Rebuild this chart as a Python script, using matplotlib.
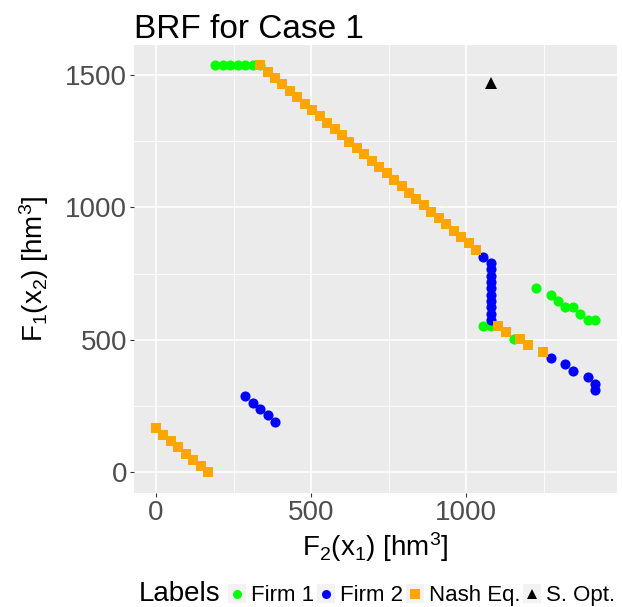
import matplotlib
matplotlib.use('Agg')

import matplotlib.pyplot as plt
from matplotlib.patches import Rectangle
from matplotlib.lines import Line2D

plt.rcParams['font.family'] = ['Liberation Sans', 'DejaVu Sans']
plt.rcParams['mathtext.fontset'] = 'custom'
plt.rcParams['mathtext.rm'] = 'Liberation Sans'
plt.rcParams['mathtext.it'] = 'Liberation Sans'
plt.rcParams['mathtext.default'] = 'regular'

# Firm 1 best response points
firm1_x = [190, 215, 239, 264, 288, 312, 336,
           1056, 1081, 1154,
           1225, 1273, 1297, 1320, 1345, 1369, 1393, 1416]
firm1_y = [1536, 1536, 1536, 1536, 1536, 1536, 1536,
           551, 551, 503,
           695, 670, 647, 623, 623, 599, 575, 575]

# Firm 2 best response points
firm2_x = [288, 313, 336, 360, 384,
           1056, 1081, 1081, 1081, 1081, 1081, 1081, 1081, 1081, 1081, 1081,
           1273, 1320, 1345, 1393, 1416, 1416]
firm2_y = [288, 263, 239, 215, 190,
           814, 791, 766, 742, 718, 695, 670, 646, 623, 599, 575,
           430, 408, 382, 359, 334, 311]

# Nash equilibria
nash_x = [0, 24, 48, 72, 96, 120, 144, 168,
          336, 360, 384, 408, 432, 456, 480, 504, 528, 552,
          576, 600, 624, 648, 672, 696, 720, 744, 768, 792,
          816, 840, 864, 888, 912, 936, 960, 984, 1008, 1032,
          1104, 1130, 1175, 1201, 1249]
nash_y = [166, 142, 119, 95, 71, 47, 24, 0,
          1536, 1512, 1488, 1464, 1440, 1416, 1392, 1368, 1344, 1320,
          1296, 1272, 1248, 1224, 1200, 1176, 1152, 1128, 1104, 1080,
          1056, 1032, 1008, 984, 960, 936, 912, 888, 864, 840,
          551, 528, 503, 479, 455]

# Social optimum
sopt_x = [1081]
sopt_y = [1468]

W, H = 622, 607
fig = plt.figure(figsize=(W / 100, H / 100), dpi=100)
ax = fig.add_axes([134 / W, 1 - 493 / H, (617 - 134) / W, (493 - 45) / H])
ax.set_facecolor('#EBEBEB')
for s in ax.spines.values():
    s.set_visible(False)

ax.set_xlim(-71, 1487)
ax.set_ylim(-78, 1613)
ax.set_xticks([0, 500, 1000])
ax.set_yticks([0, 500, 1000, 1500])
ax.set_xticks([250, 750, 1250], minor=True)
ax.set_yticks([250, 750, 1250], minor=True)
ax.grid(which='major', color='white', linewidth=1.2)
ax.grid(which='minor', color='white', linewidth=0.6)
ax.set_axisbelow(True)
ax.tick_params(which='major', labelsize=20, labelcolor='#4D4D4D', color='#333333',
               length=3, width=0.8, pad=2)
ax.tick_params(which='minor', length=0)

ax.plot(firm1_x, firm1_y, 'o', color='#00FF00', markersize=7.3, markeredgewidth=0)
ax.plot(firm2_x, firm2_y, 'o', color='#0000FF', markersize=7.3, markeredgewidth=0)
ax.plot(nash_x, nash_y, 's', color='#FFA500', markersize=7.5, markeredgewidth=0)
ax.plot(sopt_x, sopt_y, '^', color='black', markersize=8.5, markeredgewidth=0)

ax.set_xlabel(r'$F_2(x_1)\ [hm^3]$', fontsize=20, labelpad=3)
ax.set_ylabel(r'$F_1(x_2)\ [hm^3]$', fontsize=20, labelpad=10)
ax.set_title('BRF for Case 1', loc='left', fontsize=24, pad=4)

# legend along the bottom
def fx(px):
    return px / W

def fy(py):
    return 1 - py / H

base = 601
fig.text(fx(139), fy(base), 'Labels', fontsize=20, va='baseline', ha='left')
keys = [('o', '#00FF00', 'Firm 1', 228), ('o', '#0000FF', 'Firm 2', 317),
        ('s', '#FFA500', 'Nash Eq.', 406), ('^', 'black', 'S. Opt.', 523)]
for mk, col, lab, x0 in keys:
    fig.add_artist(Rectangle((fx(x0), fy(base + 2)), 17.5 / W, 19 / H,
                             transform=fig.transFigure, facecolor='#F2F2F2',
                             edgecolor='none'))
    fig.add_artist(Line2D([fx(x0 + 9)], [fy(base - 7.5)], marker=mk, color=col,
                          markersize=6.5, markeredgewidth=0, linestyle='none',
                          transform=fig.transFigure))
    fig.text(fx(x0 + 23), fy(base), lab, fontsize=16, va='baseline', ha='left')

fig.savefig('out.png', dpi=100)
